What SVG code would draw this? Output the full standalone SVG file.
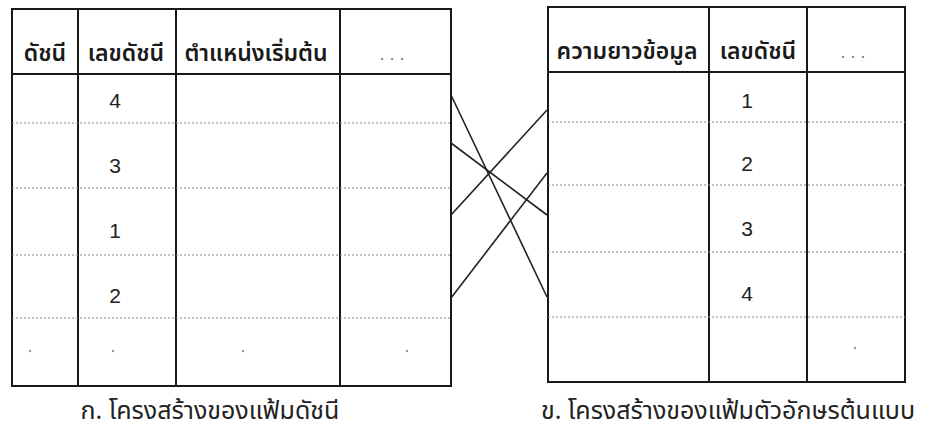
<svg xmlns="http://www.w3.org/2000/svg" width="929" height="432" viewBox="0 0 929 432">
<style>
.frame{fill:none;stroke:#1a1a1a;stroke-width:2}
.col{stroke:#1a1a1a;stroke-width:2}
.dot{stroke:#888;stroke-width:1;stroke-dasharray:2 2}
.th{font-family:"Noto Sans Thai","Noto Sans","DejaVu Sans",sans-serif;font-size:23px;font-weight:600;fill:#1a1a1a;text-anchor:middle}
.ell{font-family:"Liberation Sans",sans-serif;font-size:18px;fill:#777;text-anchor:middle}
.num{font-family:"Liberation Sans",sans-serif;font-size:21px;fill:#222;text-anchor:middle}
.cap{font-family:"Noto Sans Thai","Noto Sans","DejaVu Sans",sans-serif;font-size:25px;fill:#222;text-anchor:middle}
.conn{stroke:#222;stroke-width:1.6;fill:none}
.pt{fill:#999}
</style>
<rect width="929" height="432" fill="#ffffff"/>
<g id="index-table">
<rect class="frame" x="12" y="9" width="439" height="377"/>
<line class="col" x1="12" y1="74" x2="451" y2="74"/>
<line class="col" x1="78" y1="9" x2="78" y2="386"/>
<line class="col" x1="176" y1="9" x2="176" y2="386"/>
<line class="col" x1="340" y1="9" x2="340" y2="386"/>
<line class="dot" x1="12" y1="123" x2="451" y2="123"/>
<line class="dot" x1="12" y1="188" x2="451" y2="188"/>
<line class="dot" x1="12" y1="255" x2="451" y2="255"/>
<line class="dot" x1="12" y1="318" x2="451" y2="318"/>
<text class="th" x="45" y="61">ดัชนี</text>
<text class="th" x="126" y="61">เลขดัชนี</text>
<text class="th" x="256" y="61">ตำแหน่งเริ่มต้น</text>
<text class="ell" x="392" y="60">. . .</text>
<text class="num" x="115" y="108">4</text>
<text class="num" x="115" y="173">3</text>
<text class="num" x="115" y="238">1</text>
<text class="num" x="115" y="303">2</text>
<circle class="pt" cx="30" cy="351" r="1.2"/>
<circle class="pt" cx="113" cy="351" r="1.2"/>
<circle class="pt" cx="243" cy="351" r="1.2"/>
<circle class="pt" cx="407" cy="351" r="1.2"/>
<text class="cap" x="210" y="419">ก. โครงสร้างของแฟ้มดัชนี</text>
</g>
<g id="font-table">
<rect class="frame" x="548" y="7" width="357" height="375"/>
<line class="col" x1="548" y1="72" x2="905" y2="72"/>
<line class="col" x1="709" y1="7" x2="709" y2="382"/>
<line class="col" x1="807" y1="7" x2="807" y2="382"/>
<line class="dot" x1="548" y1="122" x2="905" y2="122"/>
<line class="dot" x1="548" y1="185" x2="905" y2="185"/>
<line class="dot" x1="548" y1="252" x2="905" y2="252"/>
<line class="dot" x1="548" y1="317" x2="905" y2="317"/>
<text class="th" x="627" y="59">ความยาวข้อมูล</text>
<text class="th" x="758" y="59">เลขดัชนี</text>
<text class="ell" x="853" y="58">. . .</text>
<text class="num" x="747" y="108">1</text>
<text class="num" x="747" y="171">2</text>
<text class="num" x="747" y="236">3</text>
<text class="num" x="747" y="301">4</text>
<circle class="pt" cx="855" cy="348" r="1.2"/>
<text class="cap" x="728" y="419">ข. โครงสร้างของแฟ้มตัวอักษรต้นแบบ</text>
</g>
<g id="connectors">
<line class="conn" x1="451" y1="95" x2="547" y2="297"/>
<line class="conn" x1="451" y1="143" x2="547" y2="215"/>
<line class="conn" x1="451" y1="215" x2="547" y2="110"/>
<line class="conn" x1="451" y1="298" x2="547" y2="173"/>
</g>
</svg>
